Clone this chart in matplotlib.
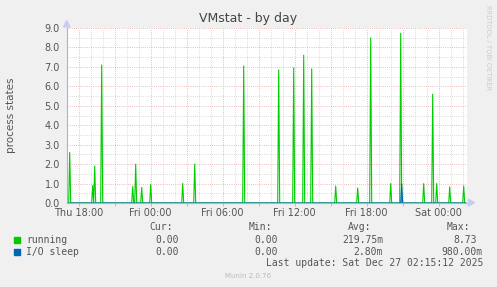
import numpy as np
import matplotlib
matplotlib.use("Agg")
import matplotlib.pyplot as plt
from matplotlib.patches import Polygon, Rectangle

# hours counted from Thu 00:00, one sample every 5 minutes
start_hour = 17.0
n_samples = 400

running_hours = [17.25, 19.17, 19.33, 19.92, 22.5, 22.75, 23.25, 24.0, 26.67,
                 27.67, 31.75, 34.67, 35.92, 36.75, 37.42, 39.42, 41.25, 42.33,
                 44.0, 44.83, 46.75, 47.5, 47.83, 48.92, 50.08]
running_vals = [2.6, 0.9, 1.9, 7.1, 0.85, 2.0, 0.8, 0.95, 1.0,
                2.0, 7.05, 6.85, 6.95, 7.6, 6.9, 0.87, 0.77, 8.5,
                1.0, 8.73, 1.0, 5.6, 1.0, 0.83, 0.88]
iosleep_hours = [44.92]
iosleep_vals = [0.98]

tick_hours = [18, 24, 30, 36, 42, 48]
tick_labels = ['Thu 18:00', 'Fri 00:00', 'Fri 06:00', 'Fri 12:00', 'Fri 18:00', 'Sat 00:00']

legend_names = ['running', 'I/O sleep']
legend_colors = ['#00cc00', '#0066b3']
cur_vals = ['0.00', '0.00']
min_vals = ['0.00', '0.00']
avg_vals = ['219.75m', '2.80m']
max_vals = ['8.73', '980.00m']


def make_series(hours, vals):
    t = start_hour + np.arange(n_samples) / 12.0
    y = np.zeros(n_samples)
    for h, v in zip(hours, vals):
        y[int(round((h - start_hour) * 12))] = v
    return t, y


W, H = 497, 287
fig = plt.figure(figsize=(W / 100, H / 100), dpi=100, facecolor='#f0f0f0')
ax = fig.add_axes([66.7 / W, 1 - 203 / H, 400 / W, 175 / H])
ax.set_facecolor('white')

t, y_run = make_series(running_hours, running_vals)
_, y_io = make_series(iosleep_hours, iosleep_vals)
ax.plot(t, y_run, color=legend_colors[0], lw=0.8, zorder=3)
ax.plot(t, y_io, color=legend_colors[1], lw=0.8, zorder=4)

x_end = start_hour + n_samples / 12.0
ax.set_xlim(start_hour, x_end)
ax.set_ylim(0, 9)

dots = (0, (0.72, 1.44))
for h in np.arange(18, x_end, 1):
    col = '#e8a8a8' if h % 3 == 0 else '#d0d0d0'
    ax.axvline(h, color=col, lw=0.72, ls=dots, zorder=1)
for v in np.arange(0.5, 9.01, 0.5):
    col = '#e8a8a8' if v % 1 == 0 else '#d0d0d0'
    ax.axhline(v, color=col, lw=0.72, ls=dots, zorder=1)

ax.set_xticks(tick_hours)
ax.set_xticklabels(tick_labels)
ax.set_xticks(np.arange(18, x_end, 3), minor=True)
ax.set_yticks(np.arange(0, 9.01, 1))
ax.set_yticklabels(['%.1f' % v for v in np.arange(0, 9.01, 1)])
ax.tick_params(axis='x', which='both', length=2, color='#e8a8a8', width=0.72,
               labelsize=7, labelcolor='#555555', pad=1.5)
ax.tick_params(axis='y', length=0, labelsize=7, labelcolor='#555555', pad=5)

for s in ['top', 'right']:
    ax.spines[s].set_visible(False)
for s in ['bottom', 'left']:
    ax.spines[s].set_color('#a8b0e8')
    ax.spines[s].set_linewidth(0.8)
    ax.spines[s].set_zorder(5)


def fxy(x, y):
    return (x / W, 1 - y / H)


fig.patches.append(Polygon([fxy(63.5, 27), fxy(70, 27), fxy(66.7, 20.5)],
                           closed=True, color='#c8ccf0', transform=fig.transFigure))
fig.patches.append(Polygon([fxy(468.5, 199.5), fxy(468.5, 206), fxy(474.5, 202.7)],
                           closed=True, color='#c8ccf0', transform=fig.transFigure))

fig.text(*fxy(248, 18.5), 'VMstat - by day', ha='center', va='center',
         fontsize=9, color='#444444')
fig.text(*fxy(11, 115), 'process states', ha='center', va='center',
         rotation=90, fontsize=7.5, color='#555555')
fig.text(*fxy(488, 5), 'RRDTOOL / TOBI OETIKER', ha='center', va='top',
         rotation=270, fontsize=4.8, color='#cccccc')

mono = dict(family='DejaVu Sans Mono', fontsize=7, color='#555555', va='center')
fig.text(*fxy(173, 227.5), 'Cur:', ha='right', **mono)
fig.text(*fxy(272, 227.5), 'Min:', ha='right', **mono)
fig.text(*fxy(371, 227.5), 'Avg:', ha='right', **mono)
fig.text(*fxy(470, 227.5), 'Max:', ha='right', **mono)

row_y = [240, 251.7]
max_right = [477, 483]
for i in range(2):
    yy = row_y[i]
    fig.patches.append(Rectangle(fxy(14, yy + 3), 6 / W, 6 / H,
                                 color=legend_colors[i], transform=fig.transFigure))
    fig.text(*fxy(26.5, yy), legend_names[i], ha='left', **mono)
    fig.text(*fxy(179, yy), cur_vals[i], ha='right', **mono)
    fig.text(*fxy(278, yy), min_vals[i], ha='right', **mono)
    fig.text(*fxy(383, yy), avg_vals[i], ha='right', **mono)
    fig.text(*fxy(max_right[i], yy), max_vals[i], ha='right', **mono)

fig.text(*fxy(483, 263.5), 'Last update: Sat Dec 27 02:15:12 2025', ha='right', **mono)
fig.text(*fxy(248, 276), 'Munin 2.0.76', ha='center', va='center',
         fontsize=5, color='#bbbbbb')

fig.savefig('out.png', dpi=100, facecolor=fig.get_facecolor())
